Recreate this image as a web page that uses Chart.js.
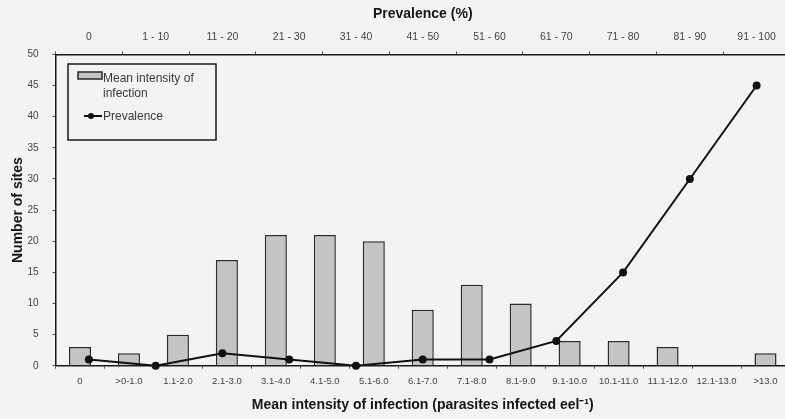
<!DOCTYPE html>
<html>
<head>
<meta charset="utf-8">
<script src="https://cdn.jsdelivr.net/npm/chart.js@4.4.1/dist/chart.umd.min.js"></script>
<style>
    html, body { margin: 0; padding: 0; background: #f3f3f1; overflow: hidden; }
    #wrap { position: relative; width: 800px; height: 419px; }
</style>
</head>
<body>
<div id="wrap"><canvas id="sitesChart"></canvas></div>
<script>
// intensity classes (bottom axis) and prevalence classes (top axis)
const intensityLabels = ['0', '>0-1.0', '1.1-2.0', '2.1-3.0', '3.1-4.0', '4.1-5.0', '5.1-6.0', '6.1-7.0',
    '7.1-8.0', '8.1-9.0', '9.1-10.0', '10.1-11.0', '11.1-12.0', '12.1-13.0', '>13.0'];
const intensitySites = [3, 2, 5, 17, 21, 21, 20, 9, 13, 10, 4, 4, 3, 0, 2];

const prevalenceLabels = ['0', '1 - 10', '11 - 20', '21 - 30', '31 - 40', '41 - 50', '51 - 60', '61 - 70',
    '71 - 80', '81 - 90', '91 - 100'];
const prevalenceSites = [1, 0, 2, 1, 0, 1, 1, 4, 15, 30, 45];

const yTicks = [0, 5, 10, 15, 20, 25, 30, 35, 40, 45, 50];

const family = "'Liberation Sans', Arial, sans-serif";
const titleFont = { family: family, size: 14, weight: 'bold' };

// boxed legend in the upper left, wrapped like the original
const boxLegend = {
    id: 'boxLegend',
    afterDraw(chart) {
        const ctx = chart.ctx;
        const bars = chart.data.datasets[0];
        const line = chart.data.datasets[1];
        ctx.save();
        ctx.strokeStyle = '#1a1a1a';
        ctx.lineWidth = 1.5;
        ctx.strokeRect(68, 64, 148, 76);

        ctx.fillStyle = bars.backgroundColor;
        ctx.fillRect(78, 72, 24, 7);
        ctx.strokeStyle = bars.borderColor;
        ctx.lineWidth = 1.5;
        ctx.strokeRect(78, 72, 24, 7);

        ctx.strokeStyle = line.borderColor;
        ctx.lineWidth = 2;
        ctx.beginPath();
        ctx.moveTo(84, 116);
        ctx.lineTo(102, 116);
        ctx.stroke();
        ctx.fillStyle = line.borderColor;
        ctx.beginPath();
        ctx.arc(91, 116, 3, 0, Math.PI * 2);
        ctx.fill();

        ctx.fillStyle = '#3a3a3a';
        ctx.font = "12px " + family;
        ctx.textBaseline = 'middle';
        ctx.fillText('Mean intensity of', 103, 79);
        ctx.fillText('infection', 103, 94);
        ctx.fillText(line.label, 103, 117);
        ctx.restore();
    }
};

new Chart(document.getElementById('sitesChart'), {
    type: 'bar',
    data: {
        labels: intensityLabels,
        datasets: [{
            type: 'bar',
            label: 'Mean intensity of infection',
            data: intensitySites,
            xAxisID: 'x',
            backgroundColor: '#c4c4c2',
            borderColor: '#2a2a2a',
            borderWidth: 1.5,
            grouped: false,
            categoryPercentage: 1,
            barPercentage: 0.45,
            order: 2
        }, {
            type: 'line',
            label: 'Prevalence',
            data: prevalenceSites,
            xAxisID: 'x2',
            borderColor: '#111111',
            backgroundColor: '#111111',
            borderWidth: 2,
            pointRadius: 3,
            pointBackgroundColor: '#111111',
            tension: 0,
            clip: false,
            order: 1
        }]
    },
    options: {
        responsive: true,
        maintainAspectRatio: false,
        animation: false,
        layout: { padding: { left: 10, right: 10, top: 6, bottom: 5 } },
        plugins: {
            legend: { display: false },
            tooltip: { enabled: false }
        },
        scales: {
            x: {
                type: 'category',
                labels: intensityLabels,
                position: 'bottom',
                offset: true,
                border: { color: '#1a1a1a', width: 1.5 },
                grid: { drawOnChartArea: false, tickLength: 3, color: '#555' },
                ticks: { font: { family: family, size: 9.5 }, color: '#444', autoSkip: false, maxRotation: 0, minRotation: 0, padding: 7 },
                title: {
                    display: true,
                    text: 'Mean intensity of infection (parasites infected eel⁻¹)',
                    font: titleFont,
                    color: '#151515',
                    padding: { top: 3, bottom: 0 }
                }
            },
            x2: {
                type: 'category',
                labels: prevalenceLabels,
                position: 'top',
                offset: true,
                border: { color: '#1a1a1a', width: 1.5 },
                grid: { drawOnChartArea: false, tickLength: 3, color: '#555' },
                ticks: { font: { family: family, size: 10.5 }, color: '#444', autoSkip: false, maxRotation: 0, minRotation: 0, padding: 8 },
                title: {
                    display: true,
                    text: 'Prevalence (%)',
                    font: titleFont,
                    color: '#151515',
                    padding: { top: 0, bottom: 0 }
                }
            },
            y: {
                min: 0,
                max: 50,
                afterBuildTicks: axis => { axis.ticks = yTicks.map(v => ({ value: v })); },
                afterFit: axis => { axis.width = 45.5; },
                border: { color: '#1a1a1a', width: 1.5 },
                grid: { drawOnChartArea: false, tickLength: 3, color: '#555' },
                ticks: { font: { family: family, size: 10 }, color: '#444', padding: 14 },
                title: {
                    display: true,
                    text: 'Number of sites',
                    font: titleFont,
                    color: '#151515',
                    padding: { top: 0, bottom: 0 }
                }
            }
        }
    },
    plugins: [boxLegend]
});
</script>
</body>
</html>
